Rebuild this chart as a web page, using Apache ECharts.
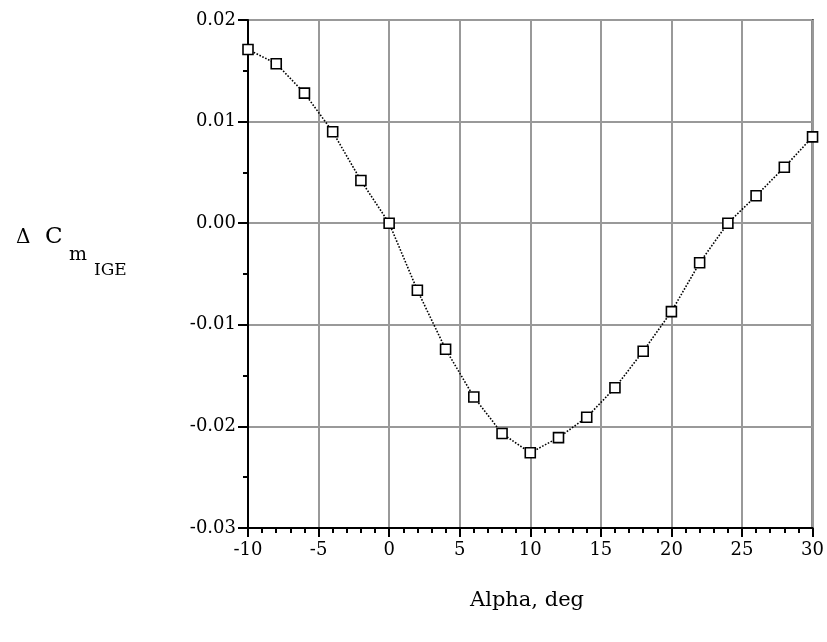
<!DOCTYPE html>
<html>
<head>
<meta charset="utf-8">
<script src="https://cdn.jsdelivr.net/npm/echarts@6/dist/echarts.min.js"></script>
<style>
  html, body { margin: 0; padding: 0; background: #fff; }
  #chart { width: 827px; height: 642px; }
</style>
</head>
<body>
<div id="chart"></div>
<script>
// angle of attack, deg
var alpha = [-10, -8, -6, -4, -2, 0, 2, 4, 6, 8, 10, 12, 14, 16, 18, 20, 22, 24, 26, 28, 30];
// delta Cm in ground effect
var dCm = [0.0171, 0.0157, 0.0128, 0.0090, 0.0042, 0.0000, -0.0066, -0.0124, -0.0171, -0.0207,
  -0.0226, -0.0211, -0.0191, -0.0162, -0.0126, -0.0087, -0.0039, 0.0000, 0.0027, 0.0055, 0.0085];

var xTicks = [-10, -5, 0, 5, 10, 15, 20, 25, 30];
var yTicks = [-0.03, -0.02, -0.01, 0.00, 0.01, 0.02];

var tickFont = "'DejaVu Serif', serif";

var chart = echarts.init(document.getElementById("chart"));

var option = {
  animation: false,
  grid: {
    left: 248, top: 20, right: 13, bottom: 114,
    show: true,
    borderColor: "#000",
    borderWidth: 2
  },
  xAxis: {
    type: "value",
    min: xTicks[0],
    max: xTicks[xTicks.length - 1],
    interval: 5,
    axisLine: { show: true, onZero: false, lineStyle: { color: "#000", width: 2 } },
    axisTick: { show: true, length: 9, lineStyle: { color: "#000", width: 2 } },
    minorTick: { show: true, splitNumber: 5, length: 5, lineStyle: { color: "#000", width: 2 } },
    axisLabel: { color: "#000", fontFamily: tickFont, fontSize: 18, margin: 13 },
    splitLine: { show: true, lineStyle: { color: "#999", width: 2 } }
  },
  yAxis: {
    type: "value",
    min: yTicks[0],
    max: yTicks[yTicks.length - 1],
    interval: 0.01,
    axisLine: { show: true, onZero: false, lineStyle: { color: "#000", width: 2 } },
    axisTick: { show: true, length: 10, lineStyle: { color: "#000", width: 2 } },
    minorTick: { show: true, splitNumber: 2, length: 5, lineStyle: { color: "#000", width: 2 } },
    axisLabel: {
      color: "#000", fontFamily: tickFont, fontSize: 18, margin: 12,
      formatter: function (v) { return v.toFixed(2); }
    },
    splitLine: { show: true, lineStyle: { color: "#999", width: 2 } }
  },
  graphic: [
    {
      type: "text", left: 470, top: 590,
      style: { text: "Alpha, deg", font: "21px 'DejaVu Serif', serif", fill: "#000" }
    },
    {
      type: "text", left: 16, top: 228,
      style: { text: "\u0394", font: "20px 'DejaVu Serif', serif", fill: "#000" }
    },
    {
      type: "text", left: 45, top: 226,
      style: { text: "C", font: "23px 'DejaVu Serif', serif", fill: "#000" }
    },
    {
      type: "text", left: 69, top: 246,
      style: { text: "m", font: "19px 'DejaVu Serif', serif", fill: "#000" }
    },
    {
      type: "text", left: 94, top: 262,
      style: { text: "IGE", font: "17px 'DejaVu Serif', serif", fill: "#000" }
    }
  ],
  series: [
    {
      type: "line",
      data: alpha.map(function (a, i) { return [a, dCm[i]]; }),
      symbol: "rect",
      symbolSize: 10,
      itemStyle: { color: "#fff", borderColor: "#000", borderWidth: 1.6 },
      lineStyle: { color: "#000", width: 1.6, type: "dotted" }
    }
  ]
};

chart.setOption(option);
</script>
</body>
</html>
